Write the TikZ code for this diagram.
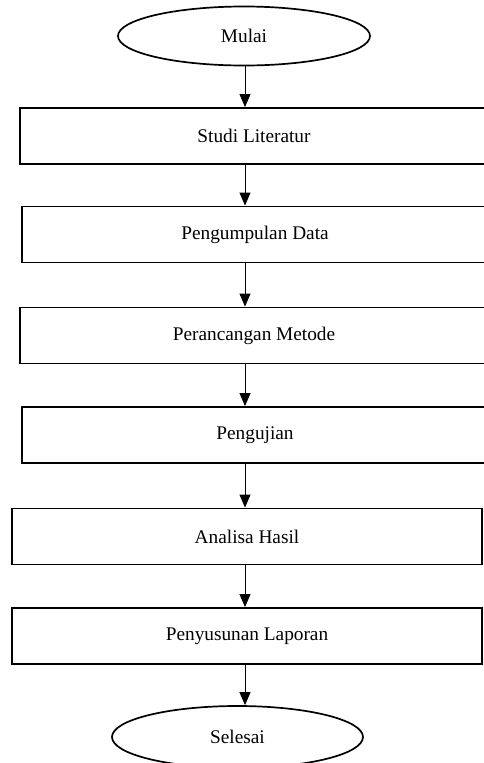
\documentclass[tikz,border=0pt]{standalone}
\usepackage{fontspec}
\setmainfont{Liberation Serif}
\usetikzlibrary{shapes.geometric,arrows.meta}
\tikzset{
  font={\fontsize{19.3pt}{23pt}\selectfont}}

\begin{document}
\begin{tikzpicture}[x=1pt,y=-1pt]
\tikzstyle{every node}+=[inner sep=0pt]
\tikzstyle{term}=[draw,ellipse,line width=1.7pt,minimum width=252pt,minimum height=59pt]
\tikzstyle{proc}=[draw,rectangle,line width=1.9pt,minimum height=56pt]
\tikzstyle{flow}=[line width=0.9pt,-{Triangle[width=11pt,length=13pt]}]
\useasboundingbox (0,0) rectangle (483,763);
\coordinate (axis) at (245,0);
\node [term] (mulai) at (244,36) {Mulai};
\node [proc,minimum width=468pt] (studi) at (254,136) {Studi Literatur};
\node [proc,minimum width=466pt] (kumpul) at (255,234.5) {Pengumpulan Data};
\node [proc,minimum width=468pt] (rancang) at (254,335.5) {Perancangan Metode};
\node [proc,minimum width=466pt] (uji) at (255,435) {Pengujian};
\node [proc,minimum width=470pt] (analisa) at (247,536.5) {Analisa Hasil};
\node [proc,minimum width=470pt] (laporan) at (247,636) {Penyusunan Laporan};
\node [term,minimum width=251pt,minimum height=62pt] (selesai) at (237.5,737) {Selesai};
\draw [flow] (axis |- mulai.south) -- (axis |- studi.north);
\draw [flow] (axis |- studi.south) -- (axis |- kumpul.north);
\draw [flow] (axis |- kumpul.south) -- (axis |- rancang.north);
\draw [flow] (axis |- rancang.south) -- (axis |- uji.north);
\draw [flow] (axis |- uji.south) -- (axis |- analisa.north);
\draw [flow] (axis |- analisa.south) -- (axis |- laporan.north);
\draw [flow] (axis |- laporan.south) -- (axis |- selesai.north);
\end{tikzpicture}
\end{document}
